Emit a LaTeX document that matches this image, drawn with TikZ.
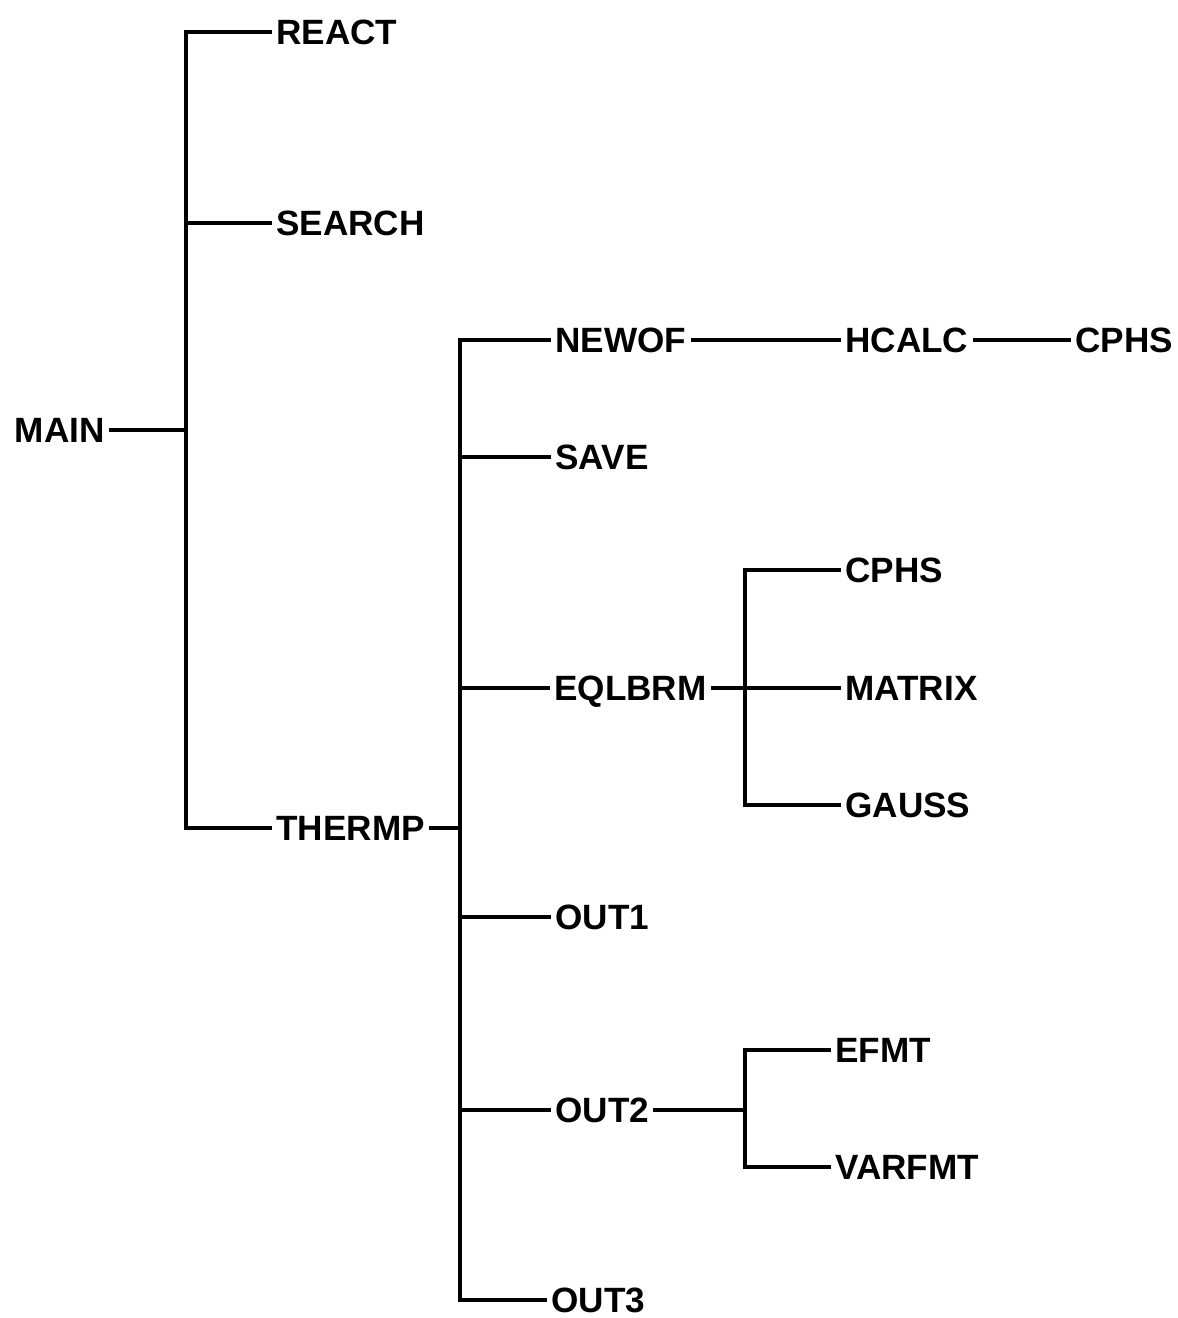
\documentclass[tikz,border=0pt]{standalone}
\usepackage{fontspec}
\setmainfont{Liberation Sans}
\usepackage{tikz}
\usetikzlibrary{positioning}

\begin{document}
\begin{tikzpicture}[
  routine/.style={anchor=west, inner xsep=0.08cm, inner ysep=0pt, text height=14.3pt, text depth=0pt, font=\fontsize{20}{24}\selectfont\bfseries},
  link/.style={line width=1.8pt}]
  \useasboundingbox (0,0) rectangle (23.54,26.36);

  % Define positions
  \node (main) [routine, anchor=east] at (2.18, 17.76) {MAIN};

  \node (react)  [routine] at (5.44, 25.72) {REACT};
  \node (search) [routine] at (5.44, 21.90) {SEARCH};
  \node (thermp) [routine] at (5.44, 9.80)  {THERMP};

  \node (newof)  [routine] at (11.02, 19.56) {NEWOF};
  \node (hcalc)  [routine] at (16.82, 19.56) {HCALC};
  \node (cphsA)  [routine] at (21.42, 19.56) {CPHS};
  \node (save)   [routine] at (11.02, 17.22) {SAVE};
  \node (eqlbrm) [routine] at (11.0, 12.60)  {EQLBRM};
  \node (cphsB)  [routine] at (16.82, 14.96) {CPHS};
  \node (matrix) [routine] at (16.82, 12.60) {MATRIX};
  \node (gauss)  [routine] at (16.82, 10.26) {GAUSS};
  \node (out1)   [routine] at (11.02, 8.02)  {OUT1};
  \node (out2)   [routine] at (11.02, 4.16)  {OUT2};
  \node (efmt)   [routine] at (16.62, 5.36)  {EFMT};
  \node (varfmt) [routine] at (16.62, 3.02)  {VARFMT};
  \node (out3)   [routine] at (10.94, 0.36)  {OUT3};

  % Trunk lines
  \coordinate (bus1) at (3.72, 0);
  \coordinate (bus2) at (9.20, 0);
  \coordinate (bus3) at (14.90, 0);

  % Lines
  \draw[link] (main.east) -- (main.east -| bus1);
  \draw[link] (react.west) -- (react.west -| bus1) |- (thermp.west);
  \draw[link] (search.west) -- (search.west -| bus1);

  \draw[link] (thermp.east) -- (thermp.east -| bus2);
  \draw[link] (newof.west) -- (newof.west -| bus2) |- (out3.west);
  \foreach \n in {save, eqlbrm, out1, out2}
    \draw[link] (\n.west) -- (\n.west -| bus2);

  \draw[link] (newof) -- (hcalc);
  \draw[link] (hcalc) -- (cphsA);

  \draw[link] (eqlbrm) -- (matrix);
  \draw[link] (cphsB.west) -- (cphsB.west -| bus3) |- (gauss.west);

  \draw[link] (out2.east) -- (out2.east -| bus3);
  \draw[link] (efmt.west) -- (efmt.west -| bus3) |- (varfmt.west);
\end{tikzpicture}
\end{document}
